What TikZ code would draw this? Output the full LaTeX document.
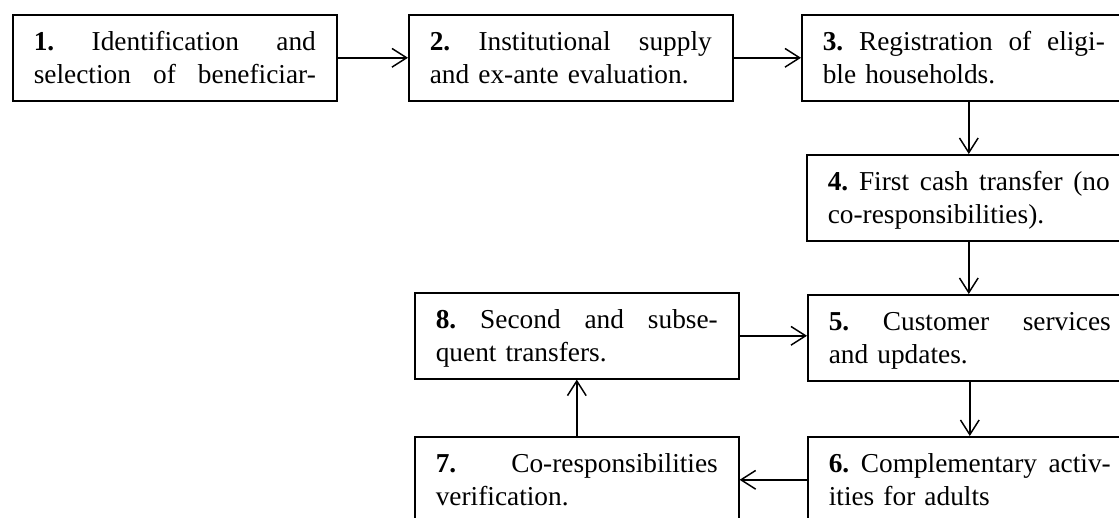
\documentclass[tikz,border=0pt]{standalone}
\usepackage{fontspec}
\setmainfont{Liberation Serif}
\usetikzlibrary{arrows.meta}
\newcommand\justline[1]{\hbox to 211.5pt{#1}}
\begin{document}
\begin{tikzpicture}[x=0.75pt,y=-0.75pt,
  box/.style={draw, line width=1.2pt, anchor=north west, text width=211.5pt,
    inner xsep=15.75pt, inner ysep=0pt, text height=27pt, text depth=37.5pt,
    font=\fontsize{20.5}{24.75}\selectfont},
  arr/.style={-{Straight Barb[length=11pt,width=14pt]}, line width=1.1pt}]
\useasboundingbox (0,0) rectangle (1119,517);
\clip (0,0) rectangle (1119,517);
\node[box] (b1) at (12,14) {\justline{\textbf{1.}\hfill Identification\hfill and}\\\justline{selection\hfill of\hfill beneficiar-}};
\node[box] (b2) at (408,14) {\justline{\textbf{2.}\hfill Institutional\hfill supply}\\and ex-ante evaluation.};
\node[box] (b3) at (801,14) {\justline{\textbf{3.}\hfill Registration\hfill of\hfill eligi-}\\ble households.};
\node[box] (b4) at (806,154) {\justline{\textbf{4.}\hfill First\hfill cash\hfill transfer\hfill (no}\\co-responsibilities).};
\node[box] (b5) at (807,294) {\justline{\textbf{5.}\hfill Customer\hfill services}\\and updates.};
\node[box] (b6) at (807,436) {\justline{\textbf{6.}\hfill Complementary\hfill activ-}\\ities for adults};
\node[box] (b8) at (414,292) {\justline{\textbf{8.}\hfill Second\hfill and\hfill subse-}\\quent transfers.};
\node[box] (b7) at (414,436) {\justline{\textbf{7.}\hfill Co-responsibilities}\\verification.};
\draw[arr] (b1.east) -- (b2.west);
\draw[arr] (b2.east) -- (b3.west);
\draw[arr] (b3.south -| b4.north) -- (b4.north);
\draw[arr] (b4.south) -- (b4.south |- b5.north);
\draw[arr] (b5.south) -- (b6.north);
\draw[arr] (b8.east) -- (b8.east -| b5.west);
\draw[arr] (b6.west) -- (b6.west -| b7.east);
\draw[arr] (b7.north) -- (b8.south);
\end{tikzpicture}
\end{document}
